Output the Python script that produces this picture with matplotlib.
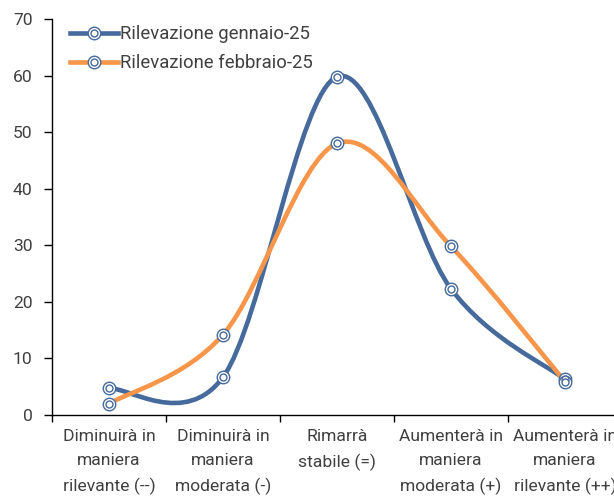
import numpy as np
import matplotlib
matplotlib.use("Agg")
import matplotlib.pyplot as plt
from matplotlib.path import Path
from matplotlib.patches import PathPatch
from matplotlib.lines import Line2D

plt.rcParams['font.family'] = ['Roboto', 'DejaVu Sans']

categories = ["Diminuirà in\nmaniera\nrilevante (--)", "Diminuirà in\nmaniera\nmoderata (-)",
              "Rimarrà\nstabile (=)", "Aumenterà in\nmaniera\nmoderata (+)",
              "Aumenterà in\nmaniera\nrilevante (++)"]
gennaio = [4.7, 6.7, 59.8, 22.3, 6.3]
febbraio = [2.0, 14.2, 48.0, 29.8, 5.9]
labels = ["Rilevazione gennaio-25", "Rilevazione febbraio-25"]

BLUE = '#456A9B'
ORANGE = '#F7964A'
TXT = '#404040'


def smooth_path(xs, ys):
    # Excel-like smoothed line: cubic bezier with catmull-rom control points
    p = np.column_stack([xs, ys]).astype(float)
    n = len(p)
    verts = [p[0]]
    codes = [Path.MOVETO]
    for i in range(n - 1):
        p0 = p[i - 1] if i > 0 else p[i]
        p3 = p[i + 2] if i + 2 < n else p[i + 1]
        c1 = p[i] + (p[i + 1] - p0) / 6
        c2 = p[i + 1] - (p3 - p[i]) / 6
        verts += [c1, c2, p[i + 1]]
        codes += [Path.CURVE4] * 3
    return Path(verts, codes)


fig = plt.figure(figsize=(6.14, 4.97), dpi=100)
ax = fig.add_axes([52 / 614, 82 / 497, 570 / 614, 396 / 497])

x = np.arange(len(categories))
for vals, col in [(gennaio, BLUE), (febbraio, ORANGE)]:
    ax.add_patch(PathPatch(smooth_path(x, vals), facecolor='none', edgecolor=col,
                           lw=3.3, capstyle='round', zorder=2))
for vals in [gennaio, febbraio]:
    ax.plot(x, vals, ls='none', marker='o', ms=9, mfc='white', mec=BLUE, mew=1.0, zorder=3)
    ax.plot(x, vals, ls='none', marker='o', ms=5, mfc='white', mec=BLUE, mew=1.0, zorder=4)

ax.set_xlim(-0.5, 4.5)
ax.set_ylim(0, 70)
ax.set_yticks(range(0, 71, 10))
ax.set_xticks(x)
ax.set_xticklabels(categories, fontsize=12.6, color=TXT, linespacing=1.75)
ax.set_xticks(np.arange(-0.5, 5, 1), minor=True)
ax.tick_params(axis='x', which='major', length=0, pad=10)
ax.tick_params(axis='x', which='minor', length=5, width=1, color='black')
ax.tick_params(axis='y', length=6, width=1, labelsize=12.6, labelcolor=TXT, pad=8)
for s in ['top', 'right']:
    ax.spines[s].set_visible(False)
ax.spines['left'].set_linewidth(1)
ax.spines['bottom'].set_linewidth(1)

handles = []
for col in [BLUE, ORANGE]:
    h1 = Line2D([], [], color=col, lw=3.3, marker='o', ms=9, mfc='white', mec=BLUE, mew=1.0)
    h2 = Line2D([], [], ls='none', marker='o', ms=5, mfc='white', mec=BLUE, mew=1.0)
    handles.append((h1, h2))
leg = fig.legend(handles, labels, loc='upper left', bbox_to_anchor=(70 / 614, 1 - 25 / 497),
                 frameon=False, fontsize=13.3, handlelength=2.6, handletextpad=0.1,
                 labelspacing=0.6, labelcolor=TXT, borderpad=0, borderaxespad=0)

fig.savefig("out.png", dpi=100)
